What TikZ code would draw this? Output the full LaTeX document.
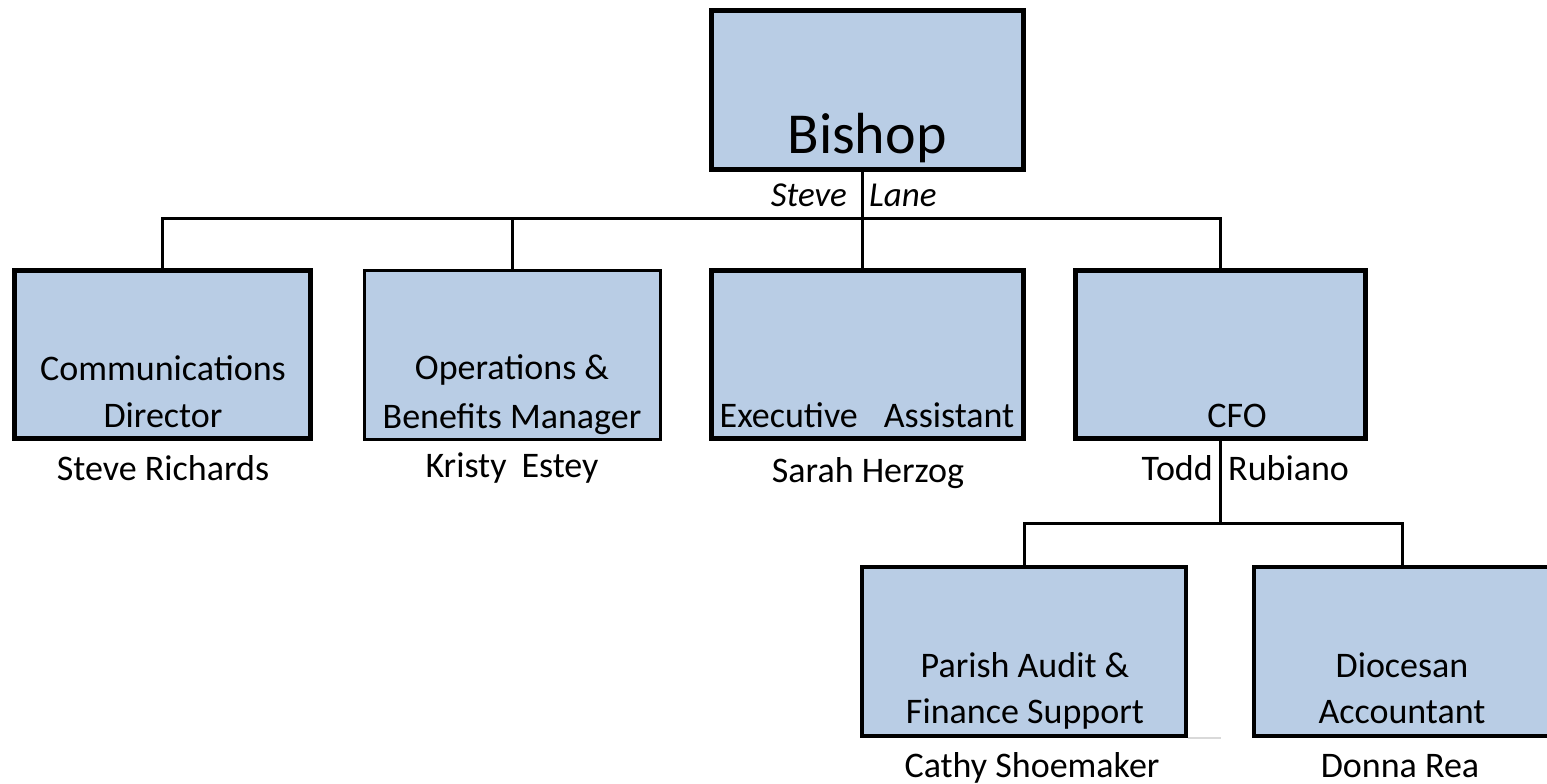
\documentclass[tikz,border=0pt]{standalone}
\usepackage{fontspec}
\setmainfont{Carlito}
\definecolor{boxblue}{RGB}{185,205,229}
\definecolor{strayg}{RGB}{217,217,217}
\begin{document}
\begin{tikzpicture}[x=1pt,y=-1pt,
  box/.style={rectangle, draw=black, fill=boxblue, line width=5pt, inner sep=0pt},
  lbl/.style={anchor=base, inner sep=0pt, font=\fontsize{36}{44}\selectfont},
  conn/.style={line width=3pt, draw=black}]
\useasboundingbox (0,0) rectangle (1547,784);

% boxes
\node[box, minimum width=312pt, minimum height=159pt] (bishop) at (867.5,90) {};
\node[box, minimum width=296pt, minimum height=168pt] (cd) at (162.5,354.5) {};
\node[box, line width=3pt, minimum width=296pt, minimum height=169pt] (obm) at (512.5,355) {};
\node[box, minimum width=312pt, minimum height=168pt] (ea) at (867.5,354.5) {};
\node[box, minimum width=290pt, minimum height=168pt] (cfo) at (1220.5,354.5) {};
\node[box, line width=4pt, minimum width=324pt, minimum height=169pt] (pa) at (1024,651.5) {};
\node[box, line width=4pt, minimum width=296pt, minimum height=169pt] (da) at (1402,651.5) {};

% connectors
\coordinate (bus) at (862,218);
\coordinate (bus2) at (1220.5,523);
\draw[conn] ([xshift=-5pt]bishop.south) -- ([xshift=-5pt]ea.north);
\draw[conn] (cd.north) |- (bus) -| (cfo.north);
\draw[conn] (obm.north) -- (obm.north |- bus);
\draw[conn] (cfo.south) -- (bus2);
\draw[conn] (pa.north) |- (bus2) -| (da.north);

% stray light grey mark
\coordinate (sa) at (1188,738);
\coordinate (sb) at (1221,738);
\draw[line width=2.5pt, draw=strayg] (sa) -- (sb);

% texts
\node[lbl, font=\fontsize{58}{70}\selectfont] (tbishop) at (867,153) {Bishop};
\node[lbl, anchor=base east, font=\itshape\fontsize{35}{40}\selectfont] (tsteve) at (847,206) {Steve};
\node[lbl, anchor=base west, font=\itshape\fontsize{35}{40}\selectfont] (tlane) at (869,206) {Lane};

\node[lbl] (cd1) at (163,380) {Communications};
\node[lbl] (cd2) at (163,427) {Director};
\node[lbl] (cdn) at (163,480) {Steve Richards};

\node[lbl] (obm1) at (512,379) {Operations \&};
\node[lbl] (obm2) at (512,428) {Benefits Manager};
\node[lbl] (obmn) at (512,477) {Kristy\hspace{15pt}Estey};

\node[lbl] (ea1) at (867,427) {Executive\hspace{26pt}Assistant};
\node[lbl] (ean) at (868,482) {Sarah Herzog};

\node[lbl] (cfo1) at (1237,427) {CFO};
\node[lbl, anchor=base east] (todd) at (1213,480) {Todd};
\node[lbl, anchor=base west] (rubiano) at (1228,480) {Rubiano};

\node[lbl] (pa1) at (1025,677) {Parish Audit \&};
\node[lbl] (pa2) at (1025,723) {Finance Support};
\node[lbl] (pan) at (1032,777) {Cathy Shoemaker};

\node[lbl] (da1) at (1402,677) {Diocesan};
\node[lbl] (da2) at (1402,723) {Accountant};
\node[lbl] (dan) at (1400,777) {Donna Rea};
\end{tikzpicture}
\end{document}
